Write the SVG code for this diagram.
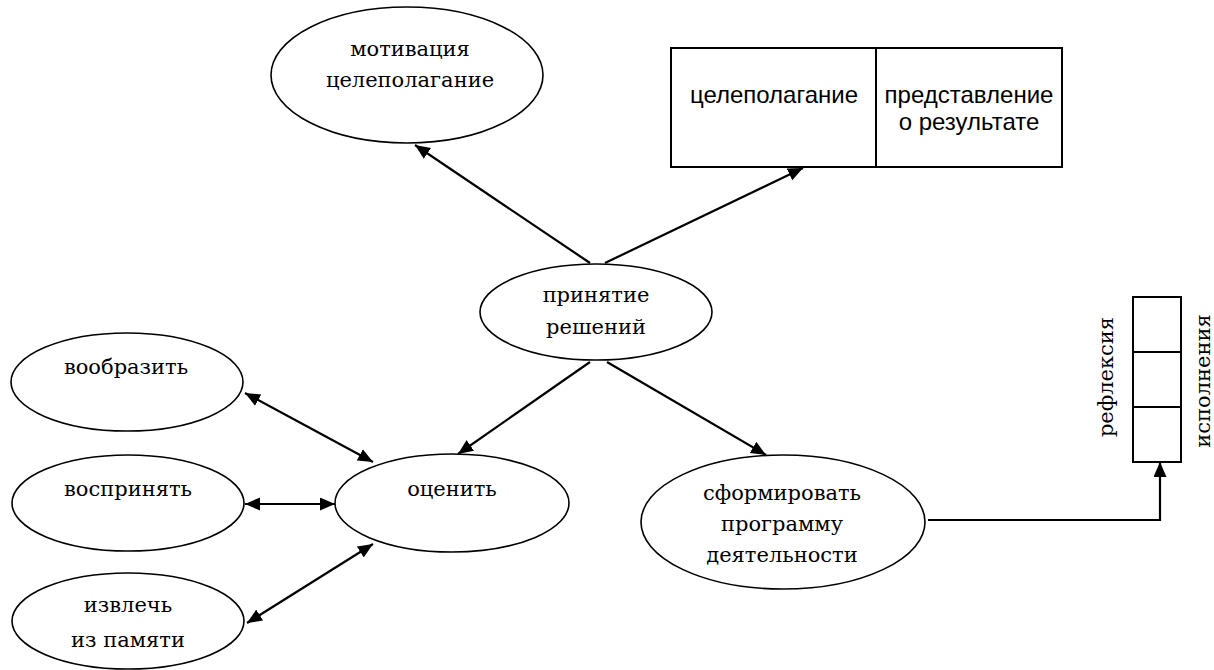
<svg xmlns="http://www.w3.org/2000/svg" width="1214" height="670" viewBox="0 0 1214 670">
<style>
.node{fill:#fff;stroke:#000;stroke-width:1.6}
.box{fill:#fff;stroke:#000;stroke-width:2}
.t{font-family:'DejaVu Serif',serif;font-size:21px;fill:#000;text-anchor:middle}
.s{font-family:'Liberation Sans','Open Sans',sans-serif;font-size:24px;fill:#000;text-anchor:middle}
.c{fill:none;stroke:#000;stroke-width:2.2}
</style>
<defs>
<marker id="ah" markerUnits="userSpaceOnUse" markerWidth="16" markerHeight="14" refX="15" refY="6.5" orient="auto-start-reverse">
<path d="M0,0 L15,6.5 L0,13 z" fill="#000"/>
</marker>
</defs>
<rect width="1214" height="670" fill="#fff"/>
<g id="connectors">
<line class="c" x1="590" y1="263" x2="415" y2="145" marker-end="url(#ah)"/>
<line class="c" x1="605" y1="263" x2="803" y2="168" marker-end="url(#ah)"/>
<line class="c" x1="590" y1="362" x2="458" y2="454" marker-end="url(#ah)"/>
<line class="c" x1="607" y1="362" x2="766" y2="455" marker-end="url(#ah)"/>
<line class="c" x1="245" y1="393" x2="373" y2="462" marker-start="url(#ah)" marker-end="url(#ah)"/>
<line class="c" x1="245" y1="504" x2="335" y2="504" marker-start="url(#ah)" marker-end="url(#ah)"/>
<line class="c" x1="247" y1="623" x2="373" y2="544" marker-start="url(#ah)" marker-end="url(#ah)"/>
<polyline class="c" points="928,520 1160,520 1160,462" marker-end="url(#ah)"/>
</g>
<g id="motivation">
<ellipse class="node" cx="407" cy="75" rx="136" ry="68"/>
<text class="t" x="410" y="56">мотивация</text>
<text class="t" x="410" y="87">целеполагание</text>
</g>
<g id="goal-box">
<rect class="box" x="671" y="48" width="391" height="119"/>
<line class="box" x1="876" y1="48" x2="876" y2="167"/>
<text class="s" x="774" y="103">целеполагание</text>
<text class="s" x="969" y="103">представление</text>
<text class="s" x="969" y="130">о результате</text>
</g>
<g id="decision">
<ellipse class="node" cx="596" cy="312" rx="116" ry="48"/>
<text class="t" x="596" y="302">принятие</text>
<text class="t" x="596" y="334">решений</text>
</g>
<g id="imagine">
<ellipse class="node" cx="127" cy="382" rx="116" ry="49"/>
<text class="t" x="126" y="374">вообразить</text>
</g>
<g id="perceive">
<ellipse class="node" cx="128" cy="503" rx="116" ry="48"/>
<text class="t" x="128" y="496">воспринять</text>
</g>
<g id="recall">
<ellipse class="node" cx="128" cy="621" rx="116" ry="48"/>
<text class="t" x="128" y="612">извлечь</text>
<text class="t" x="128" y="647">из памяти</text>
</g>
<g id="evaluate">
<ellipse class="node" cx="452" cy="503" rx="117" ry="49"/>
<text class="t" x="452" y="496">оценить</text>
</g>
<g id="program">
<ellipse class="node" cx="783" cy="522" rx="142" ry="67"/>
<text class="t" x="782" y="500">сформировать</text>
<text class="t" x="782" y="531">программу</text>
<text class="t" x="782" y="562">деятельности</text>
</g>
<g id="reflection">
<rect class="box" x="1133" y="297" width="48" height="165"/>
<line class="box" x1="1133" y1="352" x2="1181" y2="352"/>
<line class="box" x1="1133" y1="407" x2="1181" y2="407"/>
<text class="t" transform="translate(1113,377) rotate(-90)">рефлексия</text>
<text class="t" transform="translate(1210,381) rotate(-90)">исполнения</text>
</g>
</svg>
